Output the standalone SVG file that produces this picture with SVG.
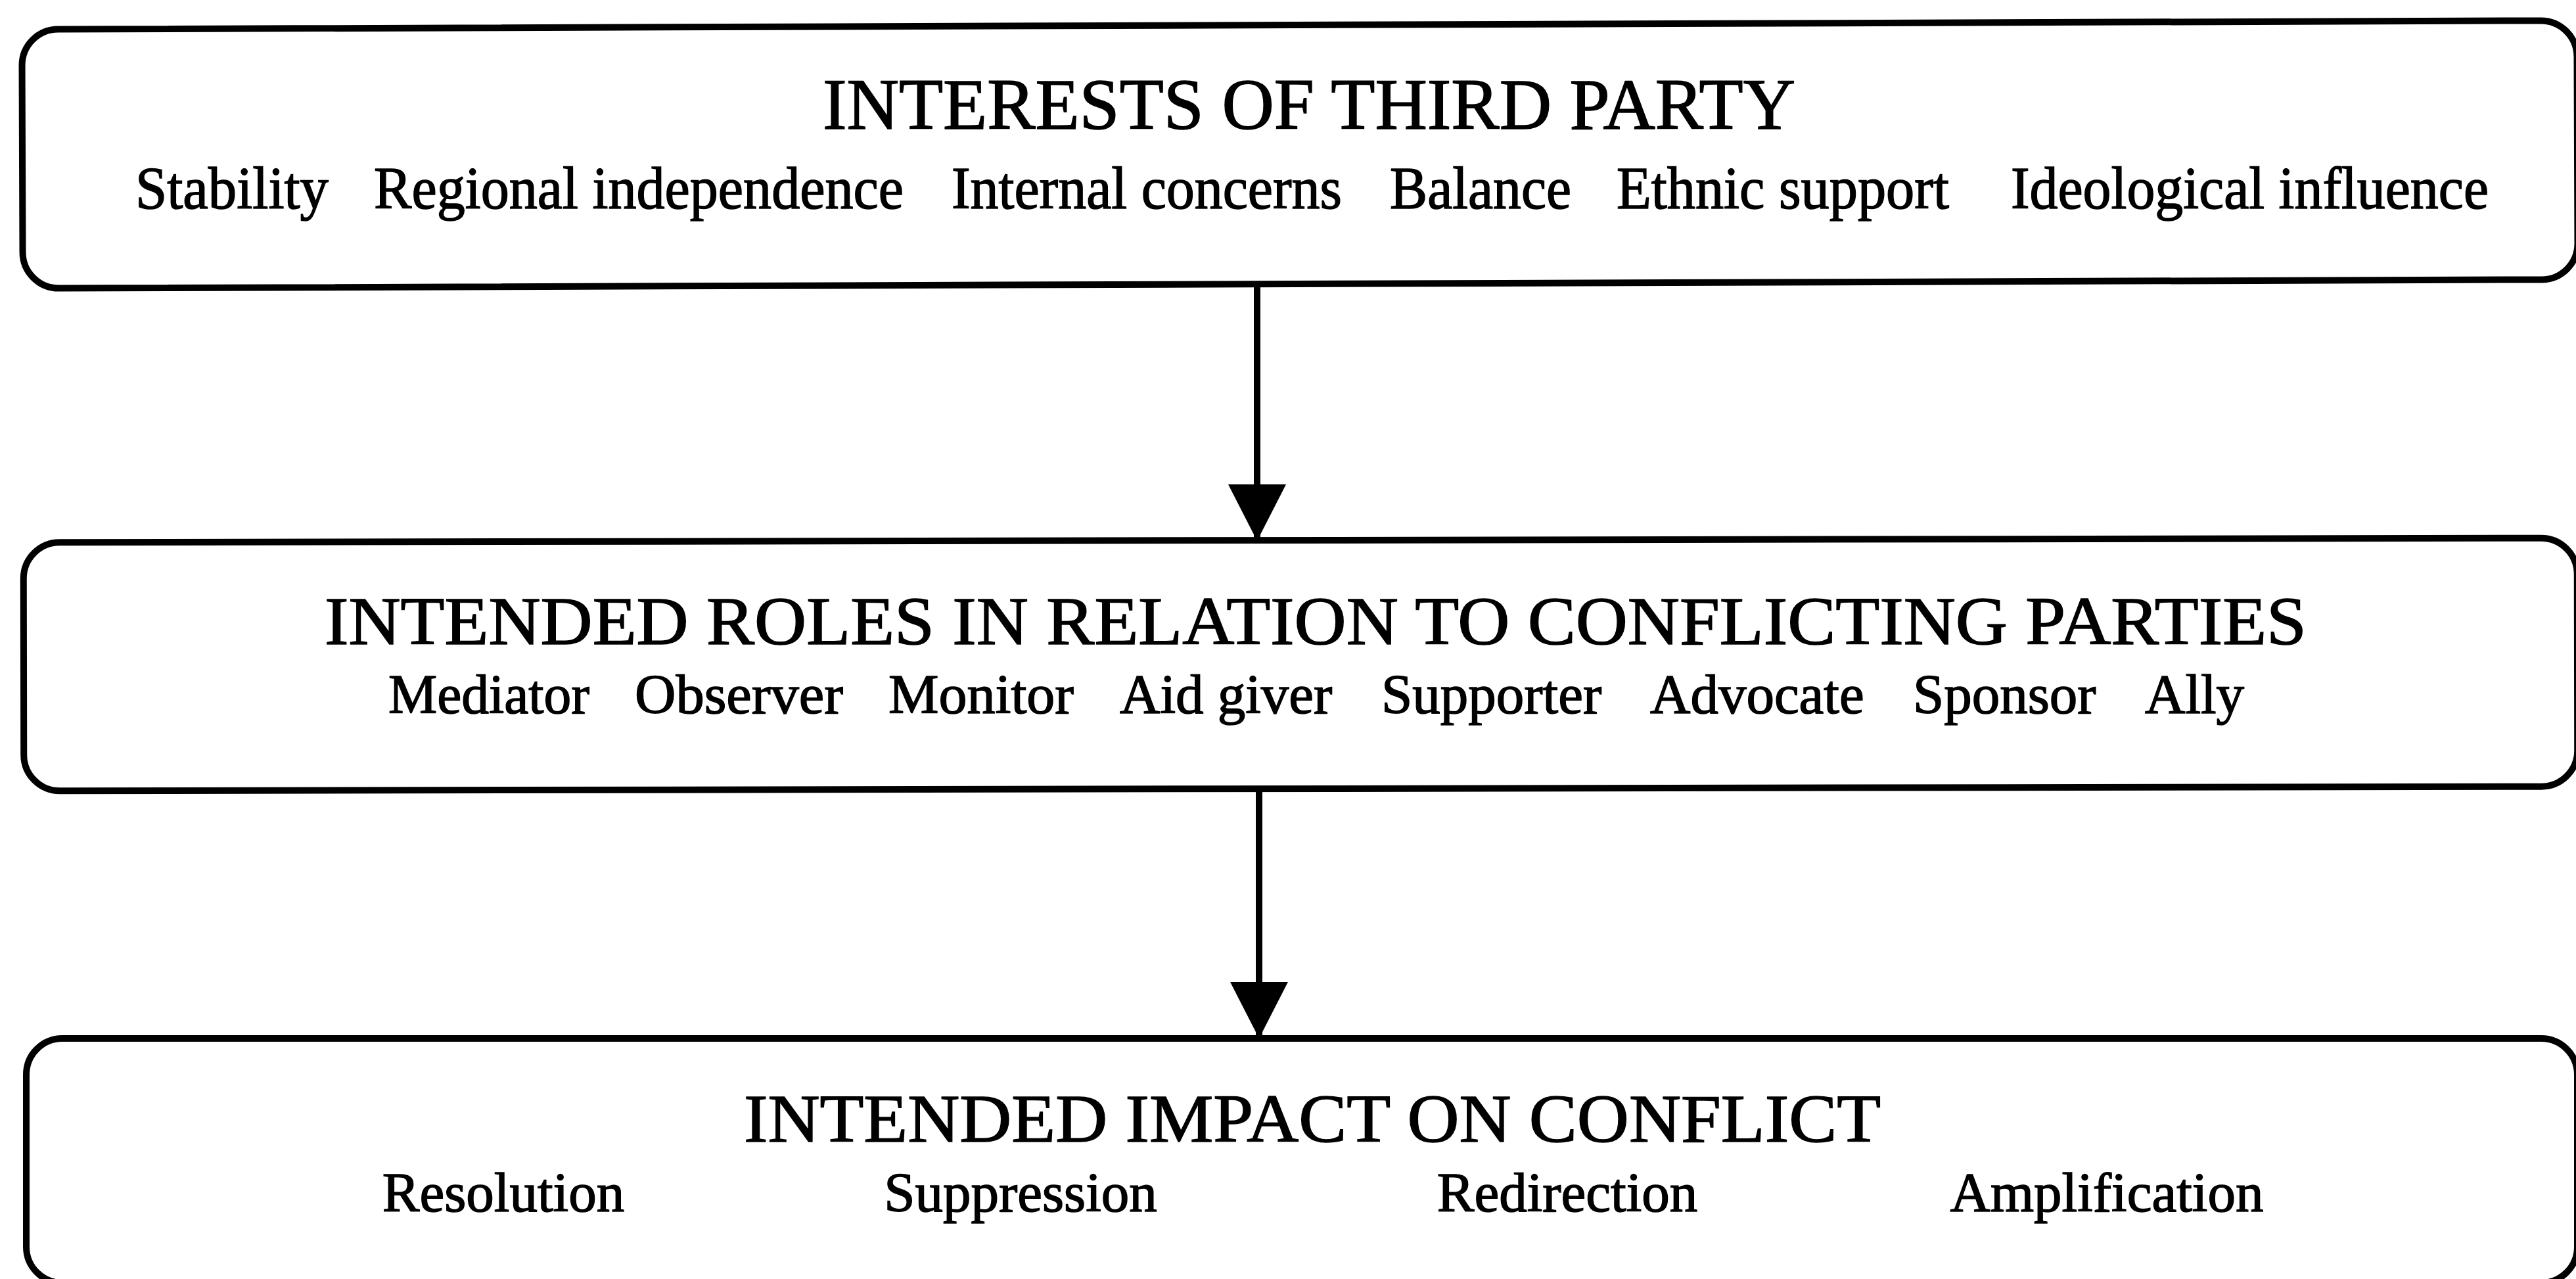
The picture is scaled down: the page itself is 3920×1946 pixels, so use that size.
<svg xmlns="http://www.w3.org/2000/svg" width="3920" height="1946" viewBox="0 0 3920 1946">
<style>
.box{fill:none;stroke:#000;stroke-width:10}
.t{font-family:"Liberation Serif","Times New Roman",serif;fill:#000;stroke:#000;stroke-width:1.5}
.h1{font-size:110px}
.h{font-size:103px}
.s1{font-size:90px}
.s{font-size:85px}
.conn{stroke:#000;stroke-width:10;fill:none}
</style>
<defs>
<marker id="ah" markerUnits="userSpaceOnUse" viewBox="0 0 86 88" refX="84" refY="44" markerWidth="86" markerHeight="88" orient="auto">
<path d="M0,0 L86,44 L0,88 z" fill="#000"/>
</marker>
</defs>
<rect width="3920" height="1946" fill="#fff"/>
<g id="node-interests">
<rect class="box" x="34" y="38" width="3888" height="394" rx="55" ry="55" transform="rotate(-0.2 1978 235)"/>
<text class="t h1" x="1252" y="196" textLength="1480" lengthAdjust="spacingAndGlyphs">INTERESTS OF THIRD PARTY</text>
<text class="t s1" x="206" y="317" textLength="294" lengthAdjust="spacingAndGlyphs">Stability</text>
<text class="t s1" x="569" y="317" textLength="806" lengthAdjust="spacingAndGlyphs">Regional independence</text>
<text class="t s1" x="1448" y="317" textLength="594" lengthAdjust="spacingAndGlyphs">Internal concerns</text>
<text class="t s1" x="2115" y="317" textLength="276" lengthAdjust="spacingAndGlyphs">Balance</text>
<text class="t s1" x="2460" y="317" textLength="506" lengthAdjust="spacingAndGlyphs">Ethnic support</text>
<text class="t s1" x="3060" y="317" textLength="727" lengthAdjust="spacingAndGlyphs">Ideological influence</text>
</g>
<g id="node-roles">
<rect class="box" x="36" y="822" width="3886" height="378" rx="55" ry="55" transform="rotate(-0.1 1978 1011)"/>
<text class="t h" x="494" y="980" textLength="3016" lengthAdjust="spacingAndGlyphs">INTENDED ROLES IN RELATION TO CONFLICTING PARTIES</text>
<text class="t s" x="591" y="1085" textLength="306" lengthAdjust="spacingAndGlyphs">Mediator</text>
<text class="t s" x="966" y="1085" textLength="317" lengthAdjust="spacingAndGlyphs">Observer</text>
<text class="t s" x="1352" y="1085" textLength="282" lengthAdjust="spacingAndGlyphs">Monitor</text>
<text class="t s" x="1704" y="1085">Aid giver</text>
<text class="t s" x="2102" y="1085">Supporter</text>
<text class="t s" x="2511" y="1085">Advocate</text>
<text class="t s" x="2911" y="1085">Sponsor</text>
<text class="t s" x="3264" y="1085">Ally</text>
</g>
<g id="node-impact">
<rect class="box" x="40" y="1580" width="3882" height="372" rx="55" ry="55"/>
<text class="t h" x="1132" y="1737" textLength="1730" lengthAdjust="spacingAndGlyphs">INTENDED IMPACT ON CONFLICT</text>
<text class="t s" x="766" y="1843" text-anchor="middle">Resolution</text>
<text class="t s" x="1553" y="1843" text-anchor="middle">Suppression</text>
<text class="t s" x="2385" y="1843" text-anchor="middle">Redirection</text>
<text class="t s" x="3206" y="1843" text-anchor="middle">Amplification</text>
</g>
<g id="connectors">
<line class="conn" x1="1913" y1="430" x2="1913" y2="821" marker-end="url(#ah)"/>
<line class="conn" x1="1916" y1="1199" x2="1916" y2="1578" marker-end="url(#ah)"/>
</g>
</svg>
